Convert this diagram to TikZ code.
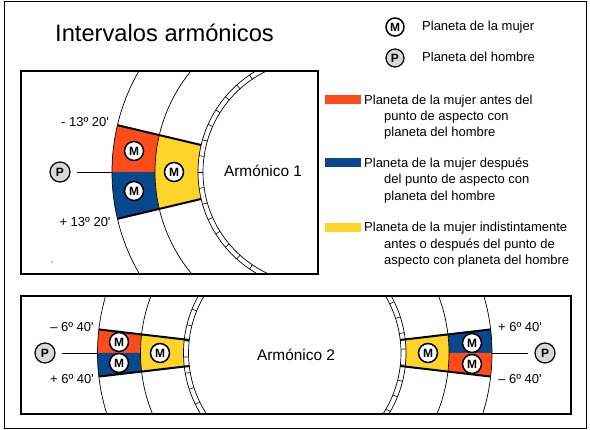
\documentclass[tikz,border=0pt]{standalone}
\usepackage{fontspec}
\setmainfont{Liberation Sans}
\newfontfamily\af{Liberation Sans}
\usetikzlibrary{calc}
\definecolor{cred}{RGB}{255,76,26}
\definecolor{cblue}{RGB}{8,72,140}
\definecolor{cyel}{RGB}{255,212,40}
\definecolor{pgrey}{RGB}{217,217,217}
\newcommand\mysector[6]{\fill[#6] ($(#1)+(#2:#4)$) arc[start angle=#2,end angle=#3,radius=#4] -- ($(#1)+(#3:#5)$) arc[start angle=#3,end angle=#2,radius=#5] -- cycle;}
\begin{document}
\begin{tikzpicture}[x=1pt,y=1pt,
  mnode/.style={circle,draw=black,line width=1.5pt,fill=white,minimum size=19pt,inner sep=0pt,font=\af\bfseries\fontsize{12}{12}\selectfont},
  pnode/.style={circle,draw=black,line width=1.2pt,fill=pgrey,minimum size=20pt,inner sep=0pt,font=\af\bfseries\fontsize{12}{12}\selectfont},
  lbl/.style={inner sep=0pt,font=\af\fontsize{13}{13}\selectfont,text height=9.3pt,text depth=0pt},
  harm/.style={inner sep=0pt,font=\af\fontsize{15.4}{15.4}\selectfont,text height=11pt,text depth=0pt},
  swatch/.style={inner sep=0pt,minimum width=36pt,minimum height=9pt},
  circ/.style={line width=0.7pt},
  ringtick/.style={line width=0.6pt},
  edge/.style={line width=2pt},
  pline/.style={line width=0.9pt,shorten <=6pt},
  boxline/.style={line width=2pt}]
\useasboundingbox (0,0) rectangle (590,430);
\draw[line width=0.8pt] (4,2) rectangle (586,429);

% title
\node[anchor=west,inner sep=0pt,font=\af\fontsize{23.7}{24}\selectfont,text height=17pt,text depth=0pt] (title) at (55,396.5) {Intervalos armónicos};

% top legend
\node[mnode,minimum size=18pt] (LM) at (395,403) {M};
\node[lbl,anchor=west] (LMt) at (422,404) {Planeta de la mujer};
\node[pnode,minimum size=18pt] (LP) at (395,372) {P};
\node[lbl,anchor=west] (LPt) at (422,373) {Planeta del hombre};

% colour legend
\node[swatch,fill=cred] (SR) at (343,330.5) {};
\node[lbl,anchor=west] (R1) at (364,330) {Planeta de la mujer antes del};
\node[lbl,anchor=west] (R2) at (384,314) {punto de aspecto con};
\node[lbl,anchor=west] (R3) at (384,298) {planeta del hombre};
\node[swatch,fill=cblue] (SB) at (343,267.5) {};
\node[lbl,anchor=west] (B1) at (364,267) {Planeta de la mujer después};
\node[lbl,anchor=west] (B2) at (384,251) {del punto de aspecto con};
\node[lbl,anchor=west] (B3) at (384,234.5) {planeta del hombre};
\node[swatch,fill=cyel] (SY) at (343,202.5) {};
\node[lbl,anchor=west] (Y1) at (364,203) {Planeta de la mujer indistintamente};
\node[lbl,anchor=west] (Y2) at (384,186.5) {antes o después del punto de};
\node[lbl,anchor=west] (Y3) at (384,170) {aspecto con planeta del hombre};

% ===== box 1 =====
\coordinate (C1) at (315,258);
\begin{scope}
\clip (21,156) rectangle (318,359);
\mysector{C1}{180}{166.667}{203pt}{160pt}{cred}
\mysector{C1}{180}{193.333}{203pt}{160pt}{cblue}
\mysector{C1}{166.667}{193.333}{160pt}{117pt}{cyel}
\foreach \r in {203,160,117,112} \draw[circ] (C1) circle[radius=\r pt];
\foreach \t in {92,100,...,268} \draw[ringtick] ($(C1)+(\t:112pt)$) -- ($(C1)+(\t:117pt)$);
\end{scope}
\draw[edge] ($(C1)+(166.667:203pt)$) -- ($(C1)+(166.667:117pt)$);
\draw[edge] ($(C1)+(193.333:203pt)$) -- ($(C1)+(193.333:117pt)$);
\draw[boxline] (21,156) rectangle (318,359);
\coordinate (S1) at ($(C1)+(180:203pt)$);
\node[pnode] (P1) at (60,258) {P};
\draw[pline] (P1) -- (S1);
\node[mnode] (M1r) at (134,279) {M};
\node[mnode] (M1b) at (134,239) {M};
\node[mnode] (M1y) at (174,258) {M};
\node[lbl] (L1a) at (85,308) {- 13º 20'};
\node[lbl] (L1b) at (85,208) {+ 13º 20'};
\node[harm] (A1) at (263,259) {Armónico 1};
\fill (52,168) circle[radius=0.6pt];

% ===== box 2 =====
\coordinate (CL) at (300.5,77);
\coordinate (CR) at (289,77);
\begin{scope}
\clip (21,16) rectangle (295,134);
\mysector{CL}{180}{173.333}{203pt}{160pt}{cred}
\mysector{CL}{180}{186.667}{203pt}{160pt}{cblue}
\mysector{CL}{173.333}{186.667}{160pt}{117pt}{cyel}
\foreach \r in {203,160,117,112} \draw[circ] (CL) circle[radius=\r pt];
\foreach \t in {134,142,...,230} \draw[ringtick] ($(CL)+(\t:112pt)$) -- ($(CL)+(\t:117pt)$);
\end{scope}
\begin{scope}
\clip (295,16) rectangle (571,134);
\mysector{CR}{0}{6.667}{203pt}{160pt}{cblue}
\mysector{CR}{0}{-6.667}{203pt}{160pt}{cred}
\mysector{CR}{-6.667}{6.667}{160pt}{117pt}{cyel}
\foreach \r in {203,160,117,112} \draw[circ] (CR) circle[radius=\r pt];
\foreach \t in {-46,-38,...,50} \draw[ringtick] ($(CR)+(\t:112pt)$) -- ($(CR)+(\t:117pt)$);
\end{scope}
\draw[edge] ($(CL)+(173.333:203pt)$) -- ($(CL)+(173.333:112pt)$);
\draw[edge] ($(CL)+(186.667:203pt)$) -- ($(CL)+(186.667:112pt)$);
\draw[edge] ($(CR)+(6.667:203pt)$) -- ($(CR)+(6.667:112pt)$);
\draw[edge] ($(CR)+(-6.667:203pt)$) -- ($(CR)+(-6.667:112pt)$);
\draw[boxline] (21,16) rectangle (571,134);
\coordinate (S2L) at ($(CL)+(180:203pt)$);
\coordinate (S2R) at ($(CR)+(0:203pt)$);
\node[pnode] (P2L) at (45,77) {P};
\node[pnode] (P2R) at (545,77) {P};
\draw[pline] (P2L) -- (S2L);
\draw[pline] (P2R) -- (S2R);
\node[mnode] (M2Lr) at (119,88) {M};
\node[mnode] (M2Lb) at (119,67) {M};
\node[mnode] (M2Ly) at (160,77) {M};
\node[mnode] (M2Ry) at (428,77) {M};
\node[mnode] (M2Rb) at (472,87) {M};
\node[mnode] (M2Rr) at (472,66) {M};
\node[lbl] (L2a) at (72,103) {– 6º 40'};
\node[lbl] (L2b) at (72,51) {+ 6º 40'};
\node[lbl] (L2c) at (520,103) {+ 6º 40'};
\node[lbl] (L2d) at (520,51) {– 6º 40'};
\node[harm] (A2) at (296,75) {Armónico 2};
\end{tikzpicture}
\end{document}
